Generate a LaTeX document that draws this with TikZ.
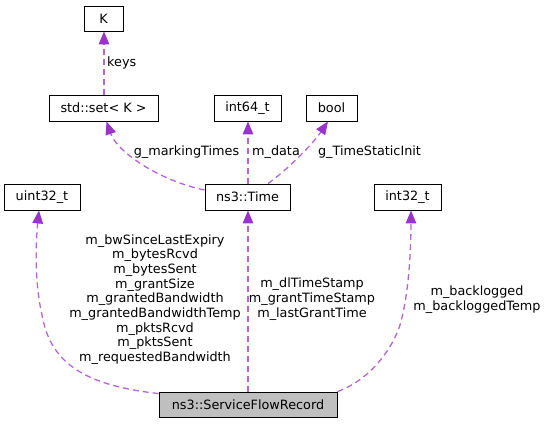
\documentclass[tikz,border=0pt]{standalone}
\usepackage{fontspec}
\setmainfont{DejaVu Sans}
\usetikzlibrary{arrows.meta}
\definecolor{edgecol}{RGB}{154,50,205}
\definecolor{boxgrey}{RGB}{191,191,191}
\tikzset{
  cls/.style={draw=black, line width=0.9pt, fill=white, inner sep=0pt, minimum height=26pt, font=\fontsize{12.8}{14.7}\selectfont},
  rel/.style={draw=edgecol!75!white, line width=1.3pt, dash pattern=on 6pt off 4pt, -{Triangle[length=13pt,width=10.5pt,fill=edgecol,color=edgecol]}},
  lbl/.style={inner sep=0pt, align=center, text=black, font=\fontsize{12.8}{14.7}\selectfont}
}
\begin{document}
\begin{tikzpicture}[x=1pt,y=-1pt]
\useasboundingbox (0,0) rectangle (548,423);
% classes
\node[cls, minimum width=39pt, minimum height=25pt] (K) at (103.5,18.5) {K};
\node[cls, minimum width=109pt] (set) at (103.5,108) {std::set< K >};
\node[cls, minimum width=67pt] (int64) at (247.5,108) {int64\_t};
\node[cls, minimum width=51pt] (bool) at (331.5,108) {bool};
\node[cls, minimum width=76pt] (uint32) at (42,197) {uint32\_t};
\node[cls, minimum width=85pt] (Time) at (247.5,197) {ns3::Time};
\node[cls, minimum width=67pt] (int32) at (407.5,197) {int32\_t};
\node[cls, minimum width=178pt, minimum height=25pt, fill=boxgrey] (SFR) at (248,404.5) {ns3::ServiceFlowRecord};
% relations
\draw[rel] ([xshift=0.5pt]set.north) -- ([xshift=0.5pt]K.south);
\draw[rel] ([yshift=7pt]Time.west) .. controls (160,181) and (117,152) .. ([xshift=3pt]set.south);
\draw[rel] ([xshift=0.5pt]Time.north) -- ([xshift=0.5pt]int64.south);
\draw[rel] ([xshift=20.5pt]Time.north) .. controls (287,170) and (312,145) .. ([xshift=-3.5pt]bool.south);
\draw[rel] ([yshift=-2pt]SFR.north west) .. controls (80,385) and (50,360) .. (42,315) .. controls (34,280) and (36,240) .. ([xshift=-3pt]uint32.south);
\draw[rel] (SFR.north) -- ([xshift=0.5pt]Time.south);
\draw[rel] (SFR.north east) .. controls (365,382) and (390,355) .. (400,325) .. controls (410,290) and (411,240) .. ([xshift=3.5pt]int32.south);
% labels
\node[lbl, anchor=west] (lkeys) at (107,62.7) {keys};
\node[lbl] (lmark) at (186.5,151.7) {g\_markingTimes};
\node[lbl] (ldata) at (276,151.7) {m\_data};
\node[lbl] (lstatic) at (369.5,151.7) {g\_TimeStaticInit};
\node[lbl] (luint) at (155,299.5) {m\_bwSinceLastExpiry\\m\_bytesRcvd\\m\_bytesSent\\m\_grantSize\\m\_grantedBandwidth\\m\_grantedBandwidthTemp\\m\_pktsRcvd\\m\_pktsSent\\m\_requestedBandwidth};
\node[lbl] (ltime) at (312,299.3) {m\_dlTimeStamp\\m\_grantTimeStamp\\m\_lastGrantTime};
\node[lbl] (lint) at (477,299.7) {m\_backlogged\\m\_backloggedTemp};
\end{tikzpicture}
\end{document}
